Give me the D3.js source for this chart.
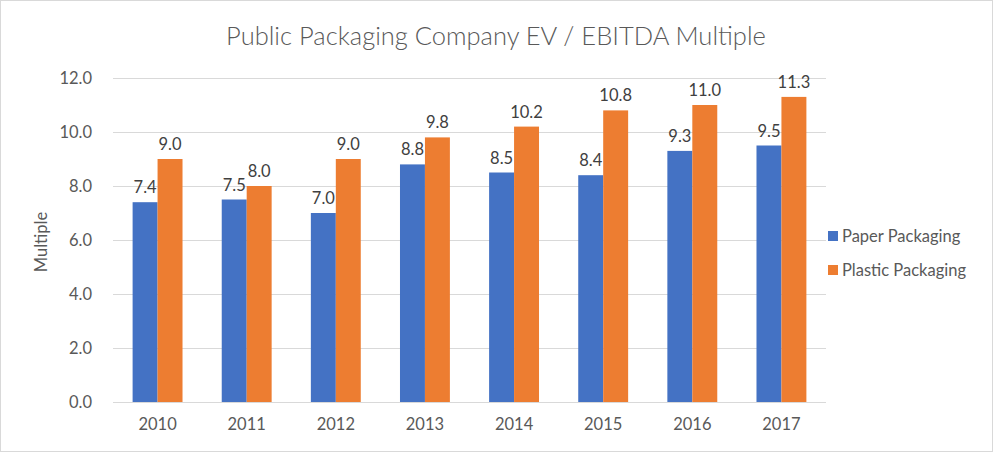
<!DOCTYPE html>
<html><head><meta charset="utf-8">
<script src="https://cdn.jsdelivr.net/npm/d3@7"></script>
<style>body{margin:0;background:#fff}svg{display:block}</style>
</head><body>
<script>
const years = ["2010","2011","2012","2013","2014","2015","2016","2017"];
const paper = [7.4,7.5,7.0,8.8,8.5,8.4,9.3,9.5];
const plastic = [9.0,8.0,9.0,9.8,10.2,10.8,11.0,11.3];
const seriesNames = ["Paper Packaging","Plastic Packaging"];
const colors = ["#4472c4","#ed7d31"];
const yTicks = [0,2,4,6,8,10,12];

const W=993,H=452;
const font="Lato, 'Open Sans', sans-serif";
const fs=16.5;
const svg=d3.select("body").append("svg").attr("width",W).attr("height",H);
svg.append("rect").attr("x",0.5).attr("y",0.5).attr("width",W-1).attr("height",H-1).attr("fill","#fff").attr("stroke","#d9d9d9");

const x0=d3.scaleBand().domain(years).range([113,826]).paddingInner(0.44).paddingOuter(0.22);
const x1=d3.scaleBand().domain(seriesNames).range([0,x0.bandwidth()]);
const y=d3.scaleLinear().domain([0,12]).range([402,78]);

svg.append("g").selectAll("line").data(yTicks).join("line")
 .attr("x1",113).attr("x2",826).attr("y1",d=>Math.round(y(d))+0.5).attr("y2",d=>Math.round(y(d))+0.5)
 .attr("stroke","#d9d9d9").attr("stroke-width",1);

const yAxis=d3.axisLeft(y).tickValues(yTicks).tickFormat(d3.format(".1f")).tickSize(0).tickPadding(0);
const ya=svg.append("g").attr("transform","translate(92,0)").call(yAxis);
ya.select(".domain").remove();
ya.selectAll("text").attr("font-family",font).attr("font-size",fs).attr("fill","#595959");

const xAxis=d3.axisBottom(x0).tickSize(0).tickPadding(0);
const xa=svg.append("g").attr("transform","translate(0,418)").call(xAxis);
xa.select(".domain").remove();
xa.selectAll("text").attr("font-family",font).attr("font-size",fs).attr("fill","#595959").attr("dy","0.71em");

const data=years.map((yr,i)=>({yr,vals:[paper[i],plastic[i]]}));
const g=svg.append("g").selectAll("g").data(data).join("g").attr("transform",d=>`translate(${x0(d.yr)},0)`);
g.selectAll("rect").data(d=>d.vals.map((v,j)=>({v,j}))).join("rect")
 .attr("x",d=>x1(seriesNames[d.j])).attr("width",x1.bandwidth())
 .attr("y",d=>y(d.v)).attr("height",d=>y(0)-y(d.v)).attr("fill",d=>colors[d.j]);
g.selectAll("text").data(d=>d.vals.map((v,j)=>({v,j}))).join("text")
 .attr("x",d=>x1(seriesNames[d.j])+x1.bandwidth()/2).attr("y",d=>y(d.v)-9)
 .attr("text-anchor","middle").attr("font-family",font).attr("font-size",fs).attr("fill","#404040")
 .text(d=>d3.format(".1f")(d.v));

svg.append("text").attr("x",496).attr("y",45).attr("text-anchor","middle")
 .attr("font-family",font).attr("font-weight",300).attr("font-size",25.5).attr("fill","#595959").text("Public Packaging Company EV / EBITDA Multiple");

svg.append("text").attr("transform","translate(47,242) rotate(-90)").attr("text-anchor","middle")
 .attr("font-family",font).attr("font-size",fs).attr("fill","#595959").text("Multiple");

const lg=svg.append("g").selectAll("g").data(seriesNames).join("g")
 .attr("transform",(d,i)=>`translate(828,${236+i*34})`);
lg.append("rect").attr("x",0).attr("y",-5).attr("width",10).attr("height",10).attr("fill",(d,i)=>colors[i]);
lg.append("text").attr("x",14).attr("y",6).attr("font-family",font).attr("font-size",fs).attr("fill","#595959").text(d=>d);
</script>
</body></html>
